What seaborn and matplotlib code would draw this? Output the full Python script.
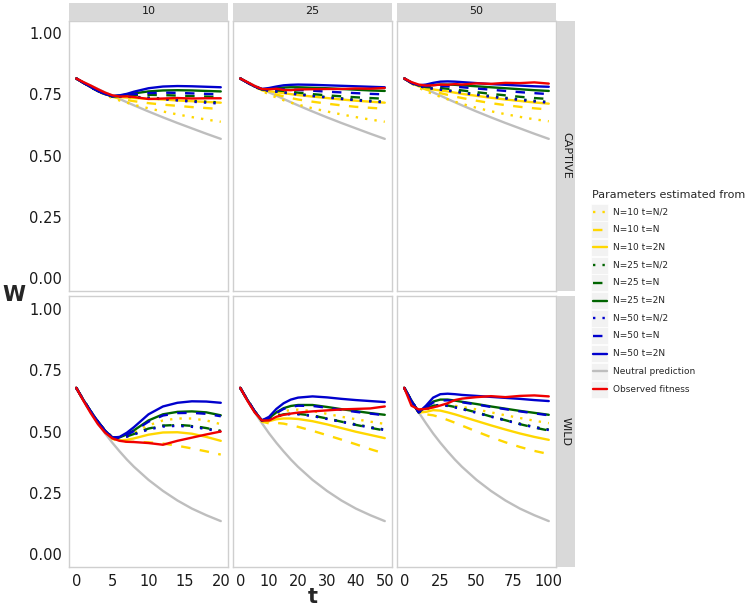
import matplotlib
matplotlib.use("Agg")
import matplotlib.pyplot as plt
import seaborn as sns
import pandas as pd
from matplotlib.patches import Rectangle

# time points read for each facet column (N = 10, 25, 50)
t_10 = [0, 1, 2, 3, 4, 5, 6, 7, 8, 10, 12, 14, 16, 18, 20]
t_25 = [0, 2.5, 5, 7.5, 10, 12.5, 15, 17.5, 20, 25, 30, 35, 40, 45, 50]
t_50 = [0, 5, 10, 15, 20, 25, 30, 35, 40, 50, 60, 70, 80, 90, 100]

labels = ["N=10 t=N/2", "N=10 t=N", "N=10 t=2N",
          "N=25 t=N/2", "N=25 t=N", "N=25 t=2N",
          "N=50 t=N/2", "N=50 t=N", "N=50 t=2N",
          "Neutral prediction", "Observed fitness"]

neutral_captive = [0.815, 0.800, 0.786, 0.772, 0.758, 0.745, 0.731, 0.718, 0.705, 0.680, 0.656, 0.633, 0.611, 0.589, 0.568]
neutral_wild = [0.678, 0.627, 0.578, 0.534, 0.492, 0.454, 0.419, 0.386, 0.356, 0.303, 0.258, 0.219, 0.186, 0.159, 0.135]

captive_10 = {
    "N=10 t=N/2": [0.815, 0.797, 0.780, 0.762, 0.748, 0.735, 0.725, 0.716, 0.707, 0.693, 0.680, 0.668, 0.657, 0.647, 0.638],
    "N=10 t=N":   [0.815, 0.797, 0.780, 0.763, 0.750, 0.740, 0.733, 0.727, 0.722, 0.714, 0.708, 0.703, 0.698, 0.694, 0.690],
    "N=10 t=2N":  [0.815, 0.797, 0.780, 0.764, 0.751, 0.742, 0.739, 0.737, 0.735, 0.732, 0.729, 0.725, 0.722, 0.719, 0.716],
    "N=25 t=N/2": [0.815, 0.797, 0.780, 0.764, 0.751, 0.742, 0.741, 0.741, 0.740, 0.737, 0.733, 0.728, 0.724, 0.720, 0.717],
    "N=25 t=N":   [0.815, 0.797, 0.780, 0.764, 0.751, 0.742, 0.743, 0.745, 0.747, 0.748, 0.747, 0.745, 0.743, 0.741, 0.739],
    "N=25 t=2N":  [0.815, 0.797, 0.780, 0.764, 0.751, 0.742, 0.745, 0.749, 0.754, 0.762, 0.766, 0.767, 0.766, 0.764, 0.762],
    "N=50 t=N/2": [0.815, 0.797, 0.780, 0.764, 0.751, 0.742, 0.741, 0.740, 0.739, 0.735, 0.730, 0.725, 0.720, 0.716, 0.712],
    "N=50 t=N":   [0.815, 0.797, 0.780, 0.764, 0.751, 0.742, 0.744, 0.747, 0.751, 0.755, 0.757, 0.756, 0.754, 0.752, 0.750],
    "N=50 t=2N":  [0.815, 0.797, 0.780, 0.764, 0.751, 0.743, 0.746, 0.752, 0.761, 0.775, 0.782, 0.784, 0.783, 0.781, 0.779],
    "Neutral prediction": neutral_captive,
    "Observed fitness": [0.815, 0.800, 0.786, 0.771, 0.757, 0.746, 0.741, 0.742, 0.739, 0.731, 0.733, 0.735, 0.733, 0.734, 0.734],
}

captive_25 = {
    "N=10 t=N/2": [0.815, 0.798, 0.781, 0.764, 0.750, 0.737, 0.726, 0.716, 0.708, 0.693, 0.680, 0.668, 0.657, 0.647, 0.638],
    "N=10 t=N":   [0.815, 0.798, 0.782, 0.767, 0.757, 0.749, 0.742, 0.735, 0.729, 0.720, 0.712, 0.705, 0.699, 0.695, 0.691],
    "N=10 t=2N":  [0.815, 0.798, 0.782, 0.769, 0.763, 0.759, 0.755, 0.751, 0.747, 0.741, 0.735, 0.729, 0.724, 0.720, 0.716],
    "N=25 t=N/2": [0.815, 0.798, 0.782, 0.770, 0.765, 0.762, 0.759, 0.756, 0.752, 0.745, 0.739, 0.734, 0.728, 0.724, 0.720],
    "N=25 t=N":   [0.815, 0.798, 0.782, 0.770, 0.767, 0.766, 0.764, 0.761, 0.757, 0.751, 0.746, 0.742, 0.738, 0.735, 0.732],
    "N=25 t=2N":  [0.815, 0.798, 0.782, 0.771, 0.772, 0.775, 0.778, 0.779, 0.779, 0.777, 0.775, 0.772, 0.769, 0.766, 0.764],
    "N=50 t=N/2": [0.815, 0.798, 0.782, 0.770, 0.764, 0.761, 0.757, 0.753, 0.749, 0.743, 0.737, 0.731, 0.726, 0.721, 0.717],
    "N=50 t=N":   [0.815, 0.798, 0.782, 0.771, 0.770, 0.771, 0.771, 0.770, 0.768, 0.765, 0.761, 0.758, 0.755, 0.752, 0.750],
    "N=50 t=2N":  [0.815, 0.798, 0.782, 0.772, 0.776, 0.782, 0.787, 0.789, 0.790, 0.789, 0.787, 0.785, 0.783, 0.781, 0.779],
    "Neutral prediction": neutral_captive,
    "Observed fitness": [0.815, 0.800, 0.784, 0.772, 0.771, 0.773, 0.768, 0.767, 0.770, 0.771, 0.772, 0.772, 0.774, 0.773, 0.776],
}

captive_50 = {
    "N=10 t=N/2": [0.815, 0.794, 0.777, 0.763, 0.751, 0.740, 0.730, 0.720, 0.711, 0.695, 0.681, 0.669, 0.658, 0.648, 0.640],
    "N=10 t=N":   [0.815, 0.795, 0.780, 0.770, 0.762, 0.755, 0.748, 0.741, 0.735, 0.724, 0.714, 0.706, 0.699, 0.693, 0.688],
    "N=10 t=2N":  [0.815, 0.796, 0.783, 0.775, 0.770, 0.766, 0.762, 0.757, 0.752, 0.744, 0.736, 0.729, 0.723, 0.717, 0.712],
    "N=25 t=N/2": [0.815, 0.796, 0.784, 0.778, 0.774, 0.771, 0.767, 0.763, 0.759, 0.751, 0.743, 0.736, 0.730, 0.724, 0.719],
    "N=25 t=N":   [0.815, 0.797, 0.785, 0.780, 0.778, 0.776, 0.773, 0.770, 0.766, 0.759, 0.752, 0.746, 0.740, 0.735, 0.731],
    "N=25 t=2N":  [0.815, 0.797, 0.786, 0.785, 0.788, 0.790, 0.790, 0.789, 0.787, 0.783, 0.779, 0.775, 0.771, 0.767, 0.764],
    "N=50 t=N/2": [0.815, 0.796, 0.784, 0.777, 0.773, 0.769, 0.765, 0.761, 0.756, 0.748, 0.740, 0.733, 0.727, 0.721, 0.716],
    "N=50 t=N":   [0.815, 0.797, 0.786, 0.783, 0.784, 0.784, 0.783, 0.781, 0.779, 0.774, 0.769, 0.764, 0.759, 0.755, 0.751],
    "N=50 t=2N":  [0.815, 0.797, 0.787, 0.790, 0.797, 0.802, 0.803, 0.802, 0.800, 0.796, 0.792, 0.789, 0.786, 0.783, 0.781],
    "Neutral prediction": neutral_captive,
    "Observed fitness": [0.815, 0.800, 0.790, 0.786, 0.787, 0.790, 0.789, 0.792, 0.790, 0.795, 0.793, 0.797, 0.796, 0.799, 0.794],
}

wild_10 = {
    "N=10 t=N/2": [0.678, 0.628, 0.582, 0.540, 0.503, 0.477, 0.474, 0.482, 0.495, 0.525, 0.545, 0.553, 0.553, 0.545, 0.530],
    "N=10 t=N":   [0.678, 0.628, 0.582, 0.540, 0.502, 0.470, 0.460, 0.458, 0.458, 0.456, 0.451, 0.442, 0.431, 0.419, 0.406],
    "N=10 t=2N":  [0.678, 0.628, 0.582, 0.540, 0.503, 0.472, 0.464, 0.466, 0.472, 0.487, 0.496, 0.497, 0.491, 0.478, 0.462],
    "N=25 t=N/2": [0.678, 0.628, 0.582, 0.540, 0.503, 0.476, 0.475, 0.481, 0.490, 0.511, 0.523, 0.526, 0.522, 0.513, 0.502],
    "N=25 t=N":   [0.678, 0.628, 0.582, 0.540, 0.503, 0.476, 0.474, 0.480, 0.490, 0.512, 0.524, 0.527, 0.523, 0.514, 0.502],
    "N=25 t=2N":  [0.678, 0.628, 0.582, 0.540, 0.503, 0.475, 0.476, 0.488, 0.505, 0.545, 0.570, 0.580, 0.582, 0.578, 0.566],
    "N=50 t=N/2": [0.678, 0.628, 0.582, 0.540, 0.503, 0.476, 0.474, 0.479, 0.488, 0.508, 0.520, 0.523, 0.519, 0.510, 0.499],
    "N=50 t=N":   [0.678, 0.628, 0.582, 0.540, 0.503, 0.475, 0.476, 0.486, 0.502, 0.540, 0.565, 0.575, 0.576, 0.572, 0.562],
    "N=50 t=2N":  [0.678, 0.628, 0.582, 0.540, 0.503, 0.475, 0.478, 0.495, 0.518, 0.570, 0.602, 0.617, 0.623, 0.622, 0.617],
    "Neutral prediction": neutral_wild,
    "Observed fitness": [0.678, 0.625, 0.575, 0.530, 0.495, 0.472, 0.462, 0.458, 0.457, 0.453, 0.446, 0.462, 0.475, 0.488, 0.500],
}

wild_25 = {
    "N=10 t=N/2": [0.678, 0.628, 0.582, 0.545, 0.552, 0.570, 0.582, 0.588, 0.589, 0.583, 0.572, 0.560, 0.550, 0.540, 0.531],
    "N=10 t=N":   [0.678, 0.628, 0.581, 0.540, 0.533, 0.535, 0.532, 0.526, 0.519, 0.503, 0.485, 0.467, 0.448, 0.428, 0.410],
    "N=10 t=2N":  [0.678, 0.628, 0.582, 0.543, 0.542, 0.550, 0.553, 0.553, 0.551, 0.542, 0.529, 0.514, 0.499, 0.486, 0.473],
    "N=25 t=N/2": [0.678, 0.628, 0.582, 0.545, 0.548, 0.562, 0.570, 0.573, 0.572, 0.565, 0.553, 0.541, 0.529, 0.518, 0.508],
    "N=25 t=N":   [0.678, 0.628, 0.582, 0.545, 0.548, 0.562, 0.570, 0.573, 0.572, 0.565, 0.553, 0.540, 0.527, 0.515, 0.504],
    "N=25 t=2N":  [0.678, 0.628, 0.582, 0.545, 0.555, 0.578, 0.595, 0.604, 0.608, 0.608, 0.600, 0.591, 0.583, 0.575, 0.568],
    "N=50 t=N/2": [0.678, 0.628, 0.582, 0.545, 0.548, 0.561, 0.568, 0.571, 0.570, 0.563, 0.551, 0.539, 0.527, 0.516, 0.506],
    "N=50 t=N":   [0.678, 0.628, 0.582, 0.545, 0.554, 0.575, 0.592, 0.601, 0.605, 0.604, 0.597, 0.588, 0.580, 0.573, 0.566],
    "N=50 t=2N":  [0.678, 0.628, 0.582, 0.545, 0.560, 0.592, 0.615, 0.630, 0.638, 0.643, 0.639, 0.633, 0.628, 0.624, 0.620],
    "Neutral prediction": neutral_wild,
    "Observed fitness": [0.678, 0.625, 0.578, 0.545, 0.545, 0.560, 0.568, 0.573, 0.577, 0.582, 0.586, 0.590, 0.592, 0.594, 0.602],
}

wild_50 = {
    "N=10 t=N/2": [0.678, 0.625, 0.578, 0.588, 0.600, 0.606, 0.607, 0.605, 0.600, 0.590, 0.578, 0.566, 0.555, 0.544, 0.534],
    "N=10 t=N":   [0.678, 0.625, 0.576, 0.570, 0.566, 0.558, 0.547, 0.536, 0.524, 0.500, 0.477, 0.456, 0.437, 0.421, 0.408],
    "N=10 t=2N":  [0.678, 0.625, 0.577, 0.580, 0.587, 0.585, 0.578, 0.570, 0.561, 0.543, 0.525, 0.508, 0.492, 0.478, 0.466],
    "N=25 t=N/2": [0.678, 0.625, 0.578, 0.591, 0.605, 0.609, 0.606, 0.600, 0.593, 0.578, 0.562, 0.547, 0.532, 0.519, 0.508],
    "N=25 t=N":   [0.678, 0.625, 0.578, 0.592, 0.605, 0.609, 0.606, 0.600, 0.593, 0.578, 0.561, 0.546, 0.530, 0.516, 0.504],
    "N=25 t=2N":  [0.678, 0.625, 0.578, 0.600, 0.622, 0.630, 0.630, 0.626, 0.621, 0.612, 0.602, 0.593, 0.584, 0.576, 0.568],
    "N=50 t=N/2": [0.678, 0.625, 0.578, 0.591, 0.604, 0.607, 0.604, 0.598, 0.591, 0.576, 0.560, 0.545, 0.530, 0.517, 0.506],
    "N=50 t=N":   [0.678, 0.625, 0.578, 0.598, 0.618, 0.626, 0.627, 0.624, 0.619, 0.610, 0.600, 0.591, 0.582, 0.574, 0.566],
    "N=50 t=2N":  [0.678, 0.625, 0.578, 0.605, 0.638, 0.652, 0.654, 0.652, 0.649, 0.645, 0.641, 0.637, 0.633, 0.628, 0.624],
    "Neutral prediction": neutral_wild,
    "Observed fitness": [0.678, 0.605, 0.590, 0.592, 0.598, 0.606, 0.615, 0.628, 0.634, 0.640, 0.644, 0.640, 0.645, 0.647, 0.643],
}

# styles for each series
GOLD, GREEN, BLUE = "#FFD700", "#006400", "#0000CD"
DOT, DASH = (0, (1, 3)), (0, (4, 4))
styles = {
    "N=10 t=N/2": (GOLD, DOT), "N=10 t=N": (GOLD, DASH), "N=10 t=2N": (GOLD, "-"),
    "N=25 t=N/2": (GREEN, DOT), "N=25 t=N": (GREEN, DASH), "N=25 t=2N": (GREEN, "-"),
    "N=50 t=N/2": (BLUE, DOT), "N=50 t=N": (BLUE, DASH), "N=50 t=2N": (BLUE, "-"),
    "Neutral prediction": ("#BEBEBE", "-"), "Observed fitness": ("#F00000", "-"),
}
draw_order = ["Neutral prediction"] + labels[:9] + ["Observed fitness"]

sns.set_style("white")
plt.rcParams["font.family"] = ["DejaVu Sans"]

W, H = 751, 606
fig = plt.figure(figsize=(W / 100, H / 100), dpi=100)


def rect(x0, y0, x1, y1):
    return [x0 / W, 1 - y1 / H, (x1 - x0) / W, (y1 - y0) / H]


cols = [(69, 228), (233, 392), (397, 556)]
rows = [(20.5, 290.5), (296, 567)]
col_t = [t_10, t_25, t_50]
col_max = [20, 50, 100]
col_ticks = [[0, 5, 10, 15, 20], [0, 10, 20, 30, 40, 50], [0, 25, 50, 75, 100]]
strip_top = ["10", "25", "50"]
strip_right = ["CAPTIVE", "WILD"]
panels = [[captive_10, captive_25, captive_50], [wild_10, wild_25, wild_50]]

for r, (y0, y1) in enumerate(rows):
    for c, (x0, x1) in enumerate(cols):
        ax = fig.add_axes(rect(x0, y0, x1, y1))
        frames = []
        for name in draw_order:
            frames.append(pd.DataFrame({"t": col_t[c], "W": panels[r][c][name], "series": name}))
        df = pd.concat(frames)
        for name in draw_order:
            color, ls = styles[name]
            sns.lineplot(data=df[df["series"] == name], x="t", y="W", ax=ax,
                         color=color, linestyle=ls, lw=1.7, errorbar=None, legend=False)
        pad = col_max[c] * 0.05
        ax.set_xlim(-pad, col_max[c] + pad)
        ax.set_ylim(-0.052, 1.052)
        ax.set_facecolor("white")
        for s in ax.spines.values():
            s.set_color("#CFCFCF")
            s.set_linewidth(1.0)
        ax.set_xlabel("")
        ax.set_ylabel("")
        ax.set_xticks(col_ticks[c])
        ax.set_yticks([0, 0.25, 0.5, 0.75, 1.0])
        ax.tick_params(axis="both", length=3, width=0.8, color="#444444",
                       labelsize=10.5, labelcolor="#1a1a1a", pad=2)
        if r == 0:
            ax.set_xticklabels([])
        if c > 0:
            ax.set_yticklabels([])
        else:
            ax.set_yticklabels(["0.00", "0.25", "0.50", "0.75", "1.00"])

# facet strips
for c, (x0, x1) in enumerate(cols):
    sax = fig.add_axes(rect(x0, 2.5, x1, 20.5))
    sax.set_facecolor("#D9D9D9")
    sax.set_xticks([])
    sax.set_yticks([])
    for s in sax.spines.values():
        s.set_visible(False)
    sax.text(0.5, 0.5, strip_top[c], ha="center", va="center", fontsize=8, color="#1a1a1a")

for r, (y0, y1) in enumerate(rows):
    sax = fig.add_axes(rect(557, y0, 575, y1))
    sax.set_facecolor("#D9D9D9")
    sax.set_xticks([])
    sax.set_yticks([])
    for s in sax.spines.values():
        s.set_visible(False)
    sax.text(0.5, 0.5, strip_right[r], ha="center", va="center", fontsize=8,
             color="#1a1a1a", rotation=-90)

# axis titles
fig.text(14 / W, 1 - 295 / H, "W", fontsize=15, fontweight="bold", ha="center", va="center")
fig.text(313 / W, 1 - 597 / H, "t", fontsize=15, fontweight="bold", ha="center", va="center")

# legend
lax = fig.add_axes([0, 0, 1, 1])
lax.set_xlim(0, W)
lax.set_ylim(H, 0)
lax.axis("off")
lax.patch.set_alpha(0)
lax.text(592, 195, "Parameters estimated from", fontsize=8, va="center", ha="left")
for i, name in enumerate(labels):
    yc = 212 + i * 17.7
    lax.add_patch(Rectangle((591, yc - 8.5), 17, 17, facecolor="#F2F2F2", edgecolor="white", lw=0.5))
    color, ls = styles[name]
    lax.plot([593, 607], [yc, yc], color=color, linestyle=ls, lw=1.7)
    lax.text(613, yc, name, fontsize=6.5, va="center", ha="left")

fig.savefig("out.png", dpi=100)
